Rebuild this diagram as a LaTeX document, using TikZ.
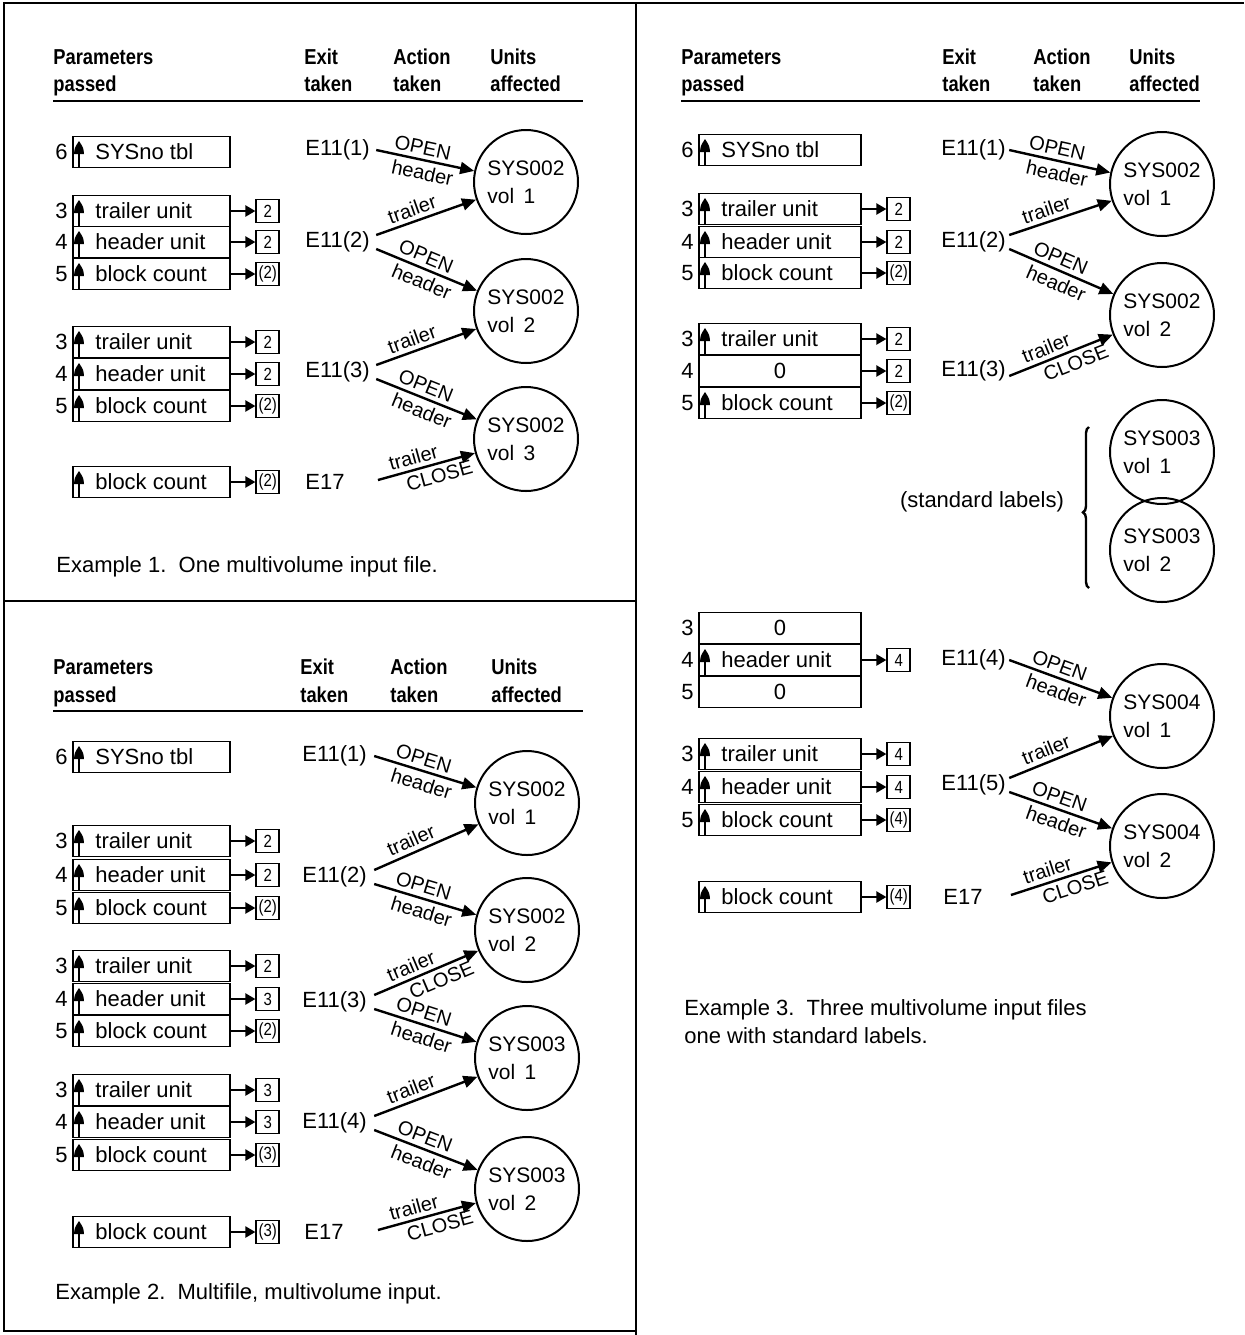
\documentclass[tikz,border=0pt]{standalone}
\usepackage{fontspec}
\setmainfont{Liberation Sans}
\newfontfamily\hfont[FakeStretch=0.85]{Liberation Sans}
\usetikzlibrary{arrows.meta,calc,decorations.pathreplacing}

\tikzset{
  txt/.style={font=\fontsize{11}{13}\selectfont, inner sep=0pt},
  num/.style={font=\fontsize{11}{13}\selectfont, inner sep=0pt},
  hd/.style={font=\hfont\bfseries\fontsize{10.8}{13}\selectfont, inner sep=0pt, anchor=base west},
  pbox/.style={draw, line width=0.9pt, minimum width=78.5pt, minimum height=15.5pt, inner sep=0pt},
  rbox/.style={draw, line width=0.9pt, minimum width=11.5pt, minimum height=11.5pt, inner sep=0pt, font=\hfont\fontsize{8.8}{8.8}\selectfont},
  vol/.style={draw, circle, line width=1pt, minimum size=52pt, inner sep=0pt, align=left, font=\fontsize{10.5}{14}\selectfont},
  arr/.style={line width=1.2pt, -{Triangle[length=7pt,width=6pt]}},
  rarr/.style={line width=1.1pt, -{Triangle[length=5pt,width=5.5pt]}},
  lab/.style={sloped, font=\fontsize{10}{10}\selectfont, inner sep=2pt},
  ex/.style={font=\fontsize{11}{13}\selectfont, inner sep=0pt, anchor=west},
  frame/.style={line width=1pt},
}

% #1 name, #2 x-left, #3 y, #4 row number, #5 text, #6 1=arrow+left text / 0=centered, #7 result
\newcommand\prow[7]{%
  \node[pbox, anchor=west] (#1) at (#2,#3) {};
  \if\relax\detokenize{#4}\relax\else
    \node[num, anchor=east] (#1n) at ($(#1.west)+(-4,0)$) {#4};
  \fi
  \ifnum#6=1
    \node[txt, anchor=west] (#1t) at ($(#1.west)+(23,0)$) {#5};
    \fill ($(#1.west)+(2,2)$) .. controls ($(#1.west)+(2.5,-4)$) .. ($(#1.west)+(7,-11)$)
          .. controls ($(#1.west)+(11.5,-4)$) .. ($(#1.west)+(12,2)$) -- cycle;
    \draw[line width=0.9pt] ($(#1.west)+(7,0)$) -- ($(#1.west)+(7,15.5)$);
  \else
    \node[txt] (#1t) at (#1.center) {#5};
  \fi
  \if\relax\detokenize{#7}\relax\else
    \node[rbox] (#1r) at ($(#1.east)+(37,0)$) {#7};
    \draw[rarr] (#1.east) -- (#1r.west);
  \fi
}

\newcommand\heads[9]{%
  \node[hd] (#1p1) at (#4,#2) {Parameters};
  \node[hd] (#1p2) at (#4,#3) {passed};
  \node[hd] (#1e1) at (#5,#2) {Exit};
  \node[hd] (#1e2) at (#5,#3) {taken};
  \node[hd] (#1a1) at (#6,#2) {Action};
  \node[hd] (#1a2) at (#6,#3) {taken};
  \node[hd] (#1u1) at (#7,#2) {Units};
  \node[hd] (#1u2) at (#7,#3) {affected};
  \draw[line width=1pt] (#4,#8) -- (#9,#8);
}

\begin{document}
\begin{tikzpicture}[x=0.5pt, y=-0.5pt]
\fill[white] (0,0) rectangle (1244,1335);
\useasboundingbox (0,0) rectangle (1244,1335);

% frame
\draw[frame] (3,3) -- (1244,3);
\draw[frame] (4,3) -- (4,1331) -- (636,1331);
\draw[frame] (636,3) -- (636,1335);
\draw[frame] (4,601) -- (636,601);

%================ Example 1 =================
\heads{h1}{64}{91}{53}{304}{393}{490}{101}{583}
\prow{a1}{72}{152}{6}{SYSno tbl}{1}{}
\prow{a2}{72}{211}{3}{trailer unit}{1}{2}
\prow{a3}{72}{242}{4}{header unit}{1}{2}
\prow{a4}{72}{274}{5}{block count}{1}{(2)}
\prow{a5}{72}{342}{3}{trailer unit}{1}{2}
\prow{a6}{72}{374}{4}{header unit}{1}{2}
\prow{a7}{72}{406}{5}{block count}{1}{(2)}
\prow{a8}{72}{482}{}{block count}{1}{(2)}

\node[txt, anchor=west] (e11) at (305,150) {E11(1)};
\node[txt, anchor=west] (e12) at (305,242) {E11(2)};
\node[txt, anchor=west] (e13) at (305,372) {E11(3)};
\node[txt, anchor=west] (e14) at (305,482) {E17};

\node[vol] (c11) at (526,182) {SYS002\\vol\, 1};
\node[vol] (c12) at (526,311) {SYS002\\vol\, 2};
\node[vol] (c13) at (526,439) {SYS002\\vol\, 3};

\coordinate (s11) at ($(e11.east)+(6,0)$);
\coordinate (s12a) at ($(e12.east)+(6,-7)$);
\coordinate (s12b) at ($(e12.east)+(6,7)$);
\coordinate (s13a) at ($(e13.east)+(6,-7)$);
\coordinate (s13b) at ($(e13.east)+(6,7)$);
\coordinate (s14) at ($(e14.east)+(33,-2)$);

\draw[arr] (s11) -- (c11) node[lab, above, pos=0.45] {OPEN} node[lab, below, pos=0.5] {header};
\draw[arr] (s12a) -- (c11) node[lab, above, pos=0.4] {trailer};
\draw[arr] (s12b) -- (c12) node[lab, above, pos=0.45] {OPEN} node[lab, below, pos=0.5] {header};
\draw[arr] (s13a) -- (c12) node[lab, above, pos=0.4] {trailer};
\draw[arr] (s13b) -- (c13) node[lab, above, pos=0.45] {OPEN} node[lab, below, pos=0.5] {header};
\draw[arr] (s14) -- (c13) node[lab, above, pos=0.4] {trailer} node[lab, below, pos=0.6] {CLOSE};

\node[ex] (x1) at (56,567) {Example 1.\ \ One multivolume input file.};

%================ Example 2 =================
\heads{h2}{674}{702}{53}{300}{390}{491}{711}{583}
\prow{b1}{72}{757}{6}{SYSno tbl}{1}{}
\prow{b2}{72}{841}{3}{trailer unit}{1}{2}
\prow{b3}{72}{875}{4}{header unit}{1}{2}
\prow{b4}{72}{908}{5}{block count}{1}{(2)}
\prow{b5}{72}{966}{3}{trailer unit}{1}{2}
\prow{b6}{72}{999}{4}{header unit}{1}{3}
\prow{b7}{72}{1031}{5}{block count}{1}{(2)}
\prow{b8}{72}{1090}{3}{trailer unit}{1}{3}
\prow{b9}{72}{1122}{4}{header unit}{1}{3}
\prow{b10}{72}{1155}{5}{block count}{1}{(3)}
\prow{b11}{72}{1232}{}{block count}{1}{(3)}

\node[txt, anchor=west] (e21) at (302,756) {E11(1)};
\node[txt, anchor=west] (e22) at (302,877) {E11(2)};
\node[txt, anchor=west] (e23) at (302,1002) {E11(3)};
\node[txt, anchor=west] (e24) at (302,1123) {E11(4)};
\node[txt, anchor=west] (e25) at (304,1232) {E17};

\node[vol] (d1) at (527,803) {SYS002\\vol\, 1};
\node[vol] (d2) at (527,930) {SYS002\\vol\, 2};
\node[vol] (d3) at (527,1058) {SYS003\\vol\, 1};
\node[vol] (d4) at (527,1189) {SYS003\\vol\, 2};

\coordinate (s21) at ($(e21.east)+(7,0)$);
\coordinate (s22a) at ($(e22.east)+(7,-7)$);
\coordinate (s22b) at ($(e22.east)+(7,7)$);
\coordinate (s23a) at ($(e23.east)+(7,-7)$);
\coordinate (s23b) at ($(e23.east)+(7,7)$);
\coordinate (s24a) at ($(e24.east)+(7,-7)$);
\coordinate (s24b) at ($(e24.east)+(7,7)$);
\coordinate (s25) at ($(e25.east)+(34,-2)$);

\draw[arr] (s21) -- (d1) node[lab, above, pos=0.45] {OPEN} node[lab, below, pos=0.5] {header};
\draw[arr] (s22a) -- (d1) node[lab, above, pos=0.4] {trailer};
\draw[arr] (s22b) -- (d2) node[lab, above, pos=0.45] {OPEN} node[lab, below, pos=0.5] {header};
\draw[arr] (s23a) -- (d2) node[lab, above, pos=0.4] {trailer} node[lab, below, pos=0.6] {CLOSE};
\draw[arr] (s23b) -- (d3) node[lab, above, pos=0.45] {OPEN} node[lab, below, pos=0.5] {header};
\draw[arr] (s24a) -- (d3) node[lab, above, pos=0.4] {trailer};
\draw[arr] (s24b) -- (d4) node[lab, above, pos=0.45] {OPEN} node[lab, below, pos=0.5] {header};
\draw[arr] (s25) -- (d4) node[lab, above, pos=0.4] {trailer} node[lab, below, pos=0.6] {CLOSE};

\node[ex] (x2) at (55,1294) {Example 2.\ \ Multifile, multivolume input.};

%================ Example 3 =================
\heads{h3}{64}{91}{681}{942}{1033}{1129}{101}{1200}
\begin{scope}[pbox/.append style={minimum width=81pt}]
\prow{r1}{698}{150}{6}{SYSno tbl}{1}{}
\prow{r2}{698}{209}{3}{trailer unit}{1}{2}
\prow{r3}{698}{242}{4}{header unit}{1}{2}
\prow{r4}{698}{273}{5}{block count}{1}{(2)}
\prow{r5}{698}{339}{3}{trailer unit}{1}{2}
\prow{r6}{698}{371}{4}{0}{0}{2}
\prow{r7}{698}{403}{5}{block count}{1}{(2)}
\prow{r8}{698}{628}{3}{0}{0}{}
\prow{r9}{698}{660}{4}{header unit}{1}{4}
\prow{r10}{698}{692}{5}{0}{0}{}
\prow{r11}{698}{754}{3}{trailer unit}{1}{4}
\prow{r12}{698}{787}{4}{header unit}{1}{4}
\prow{r13}{698}{820}{5}{block count}{1}{(4)}
\prow{r14}{698}{897}{}{block count}{1}{(4)}
\end{scope}

\node[txt, anchor=west] (e31) at (941,150) {E11(1)};
\node[txt, anchor=west] (e32) at (941,242) {E11(2)};
\node[txt, anchor=west] (e33) at (941,371) {E11(3)};
\node[txt, anchor=west] (e34) at (941,660) {E11(4)};
\node[txt, anchor=west] (e35) at (941,785) {E11(5)};
\node[txt, anchor=west] (e36) at (943,897) {E17};

\node[vol] (f1) at (1162,184) {SYS002\\vol\, 1};
\node[vol] (f2) at (1162,315) {SYS002\\vol\, 2};
\node[vol] (g1) at (1162,452) {SYS003\\vol\, 1};
\node[vol] (g2) at (1162,550) {SYS003\\vol\, 2};
\node[vol] (k1) at (1162,716) {SYS004\\vol\, 1};
\node[vol] (k2) at (1162,846) {SYS004\\vol\, 2};

\node[txt] (std) at (982,502) {(standard labels)};
\draw[line width=1.2pt, decorate, decoration={brace, amplitude=3pt, aspect=0.47}] (1089,588) -- (1089,427);

\coordinate (s31) at ($(e31.east)+(3,0)$);
\coordinate (s32a) at ($(e32.east)+(3,-7)$);
\coordinate (s32b) at ($(e32.east)+(3,7)$);
\coordinate (s33) at ($(e33.east)+(3,5)$);
\coordinate (s34) at ($(e34.east)+(3,0)$);
\coordinate (s35a) at ($(e35.east)+(3,-7)$);
\coordinate (s35b) at ($(e35.east)+(3,7)$);
\coordinate (s36) at ($(e36.east)+(28,-2)$);

\draw[arr] (s31) -- (f1) node[lab, above, pos=0.45] {OPEN} node[lab, below, pos=0.5] {header};
\draw[arr] (s32a) -- (f1) node[lab, above, pos=0.4] {trailer};
\draw[arr] (s32b) -- (f2) node[lab, above, pos=0.45] {OPEN} node[lab, below, pos=0.5] {header};
\draw[arr] (s33) -- (f2) node[lab, above, pos=0.4] {trailer} node[lab, below, pos=0.6] {CLOSE};
\draw[arr] (s34) -- (k1) node[lab, above, pos=0.45] {OPEN} node[lab, below, pos=0.5] {header};
\draw[arr] (s35a) -- (k1) node[lab, above, pos=0.4] {trailer};
\draw[arr] (s35b) -- (k2) node[lab, above, pos=0.45] {OPEN} node[lab, below, pos=0.5] {header};
\draw[arr] (s36) -- (k2) node[lab, above, pos=0.4] {trailer} node[lab, below, pos=0.6] {CLOSE};

\node[ex] (x3) at (684,1010) {Example 3.\ \ Three multivolume input files};
\node[ex] (x4) at (684,1036) {one with standard labels.};
\end{tikzpicture}
\end{document}
